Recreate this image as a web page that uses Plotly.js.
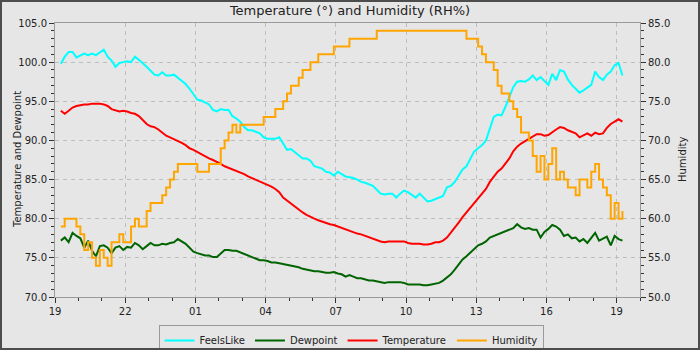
<!DOCTYPE html>
<html>
<head>
<meta charset="utf-8">
<script src="https://cdn.plot.ly/plotly-3.0.1.min.js"></script>
<style>
  html, body { margin: 0; padding: 0; background: #e6e6e6; }
  #wrap { position: relative; width: 700px; height: 350px; }
  #chart { width: 700px; height: 350px; }
  #frame { position: absolute; left: 0; top: 0; width: 700px; height: 350px;
           box-sizing: border-box; border: 2px solid #4d4d4d; pointer-events: none; }
</style>
</head>
<body>
<div id="wrap">
  <div id="chart"></div>
  <div id="frame"></div>
</div>
<script>
// Readings every 10 minutes, 19:15 to 19:15 the next day
const START_UTC = Date.UTC(2024, 4, 10, 19, 15);
const STEP_MINUTES = 10;

const feelsLike = [
  99.8, 100.7, 101.3, 101.3, 100.6, 100.9, 101.1, 100.9, 101.1, 100.9, 101.2, 101.6,
  100.7, 100.2, 99.4, 99.9, 100.0, 100.1, 100.0, 100.7, 100.3, 99.9, 99.4, 98.9,
  98.4, 98.3, 98.7, 98.3, 98.3, 98.4, 98.0, 97.6, 97.2, 96.6, 95.9, 95.2,
  95.1, 94.9, 94.6, 93.9, 93.7, 94.0, 93.9, 93.9, 93.1, 92.8, 92.4, 91.7,
  91.3, 91.3, 91.1, 90.9, 90.4, 90.2, 90.2, 90.2, 90.4, 89.6, 88.8, 88.9,
  88.5, 88.2, 87.7, 87.7, 87.4, 86.7, 86.5, 86.4, 86.0, 85.9, 85.5, 86.0,
  85.7, 85.4, 85.3, 85.2, 85.0, 84.7, 84.6, 84.4, 84.2, 83.7, 83.2, 83.1,
  83.2, 83.2, 82.7, 83.2, 83.6, 83.4, 83.0, 82.7, 83.2, 82.7, 82.2, 82.3,
  82.5, 82.6, 82.9, 84.0, 84.2, 84.7, 85.5, 86.3, 86.7, 87.7, 88.6, 89.0,
  89.4, 90.0, 91.6, 93.0, 93.3, 93.2, 94.3, 95.6, 96.8, 97.5, 97.6, 97.5,
  97.8, 98.3, 97.7, 98.1, 97.6, 97.1, 98.5, 97.7, 99.0, 98.8, 97.8, 97.1,
  96.6, 96.1, 96.4, 96.7, 97.1, 98.8, 98.1, 97.7, 98.4, 98.8, 99.6, 99.9,
  98.3
];

const dewpoint = [
  77.2, 77.6, 77.0, 78.2, 77.8, 77.5, 76.3, 77.2, 75.9, 75.2, 76.5, 76.6,
  76.3, 75.6, 76.3, 76.5, 76.0, 76.4, 76.3, 76.9, 76.6, 76.1, 76.5, 76.9,
  76.6, 76.6, 76.8, 76.7, 76.9, 77.0, 77.4, 77.1, 76.8, 76.3, 75.8, 75.6,
  75.4, 75.3, 75.3, 75.1, 75.1, 75.6, 76.0, 76.0, 75.9, 75.9, 75.7, 75.5,
  75.3, 75.1, 74.9, 74.7, 74.7, 74.6, 74.4, 74.4, 74.3, 74.2, 74.1, 74.0,
  73.9, 73.8, 73.6, 73.5, 73.4, 73.3, 73.3, 73.2, 73.1, 73.1, 73.2, 73.0,
  72.9, 72.6, 72.8, 72.6, 72.4, 72.4, 72.2, 72.1, 72.1, 72.0, 71.9, 71.8,
  71.9, 71.9, 71.9, 71.9, 71.8, 71.6, 71.6, 71.6, 71.6, 71.5, 71.5, 71.6,
  71.7, 71.8, 72.1, 72.5, 72.9, 73.5, 74.1, 74.8, 75.2, 75.7, 76.2, 76.6,
  76.8, 77.1, 77.6, 77.8, 77.9, 78.1, 78.3, 78.6, 78.8, 79.3, 78.9, 78.7,
  78.8, 78.6, 78.6, 77.6, 78.3, 78.7, 79.2, 79.0, 78.6, 77.8, 78.0, 77.5,
  77.6, 77.1, 77.4, 76.9, 77.5, 78.2, 77.2, 77.5, 77.7, 76.6, 77.8, 77.4,
  77.2
];

const temperature = [
  93.8, 93.4, 93.8, 94.2, 94.4, 94.5, 94.6, 94.6, 94.7, 94.7, 94.7, 94.6,
  94.4, 94.0, 93.8, 93.7, 93.8, 93.7, 93.5, 93.4, 93.1, 92.6, 92.1, 91.8,
  91.7, 91.4, 91.0, 90.6, 90.4, 90.2, 89.9, 89.7, 89.4, 89.0, 88.8, 88.5,
  88.2, 88.0, 87.7, 87.5, 87.3, 87.0, 86.7, 86.5, 86.4, 86.2, 85.9, 85.7,
  85.4, 85.2, 85.0, 84.7, 84.5, 84.3, 84.1, 83.8, 83.4, 82.7, 82.3, 82.0,
  81.6, 81.2, 80.8, 80.5, 80.2, 80.0, 79.8, 79.6, 79.4, 79.3, 79.2, 79.0,
  78.8, 78.7, 78.5, 78.2, 78.1, 78.0, 77.8, 77.7, 77.5, 77.2, 77.1, 77.0,
  77.1, 77.1, 77.1, 77.1, 77.1, 76.9, 76.8, 76.8, 76.8, 76.7, 76.7, 76.8,
  77.0, 77.0, 77.2, 77.6, 78.2, 78.9, 79.5, 80.2, 80.8, 81.5, 82.1, 82.6,
  83.2, 83.8, 84.7, 85.4, 86.0, 86.4, 87.1, 87.7, 88.6, 89.2, 89.6, 89.9,
  90.2, 90.5, 90.8, 90.8, 90.6, 90.7, 91.1, 91.4, 91.7, 91.6, 91.3, 91.1,
  90.9, 90.4, 90.6, 90.9, 90.6, 91.0, 90.8, 90.9, 91.6, 92.1, 92.4, 92.7,
  92.4
];

const humidity = [
  59, 60, 60, 60, 59, 58, 56, 57, 55, 54, 56, 55,
  54, 57, 57, 58, 57, 57, 59, 60, 59, 59, 61, 62,
  62, 62, 63, 64, 65, 66, 67, 67, 67, 67, 67, 66,
  66, 66, 67, 67, 67, 69, 70, 71, 72, 71, 72, 72,
  72, 72, 72, 72, 73, 73, 73, 74, 74, 75, 76, 77,
  77, 78, 79, 79, 80, 80, 81, 81, 81, 81, 82, 82,
  82, 82, 83, 83, 83, 83, 83, 83, 83, 84, 84, 84,
  84, 84, 84, 84, 84, 84, 84, 84, 84, 84, 84, 84,
  84, 84, 84, 84, 84, 84, 84, 84, 83, 83, 83, 82,
  81, 80, 80, 79, 77, 76, 76, 75, 74, 73, 71, 71,
  70, 68, 66, 68, 65, 67, 69, 65, 66, 65, 64, 64,
  63, 65, 65, 64, 66, 67, 65, 64, 63, 60, 62, 60,
  61
];

function stamp(ms) {
  return new Date(ms).toISOString().slice(0, 19).replace('T', ' ');
}
const times = feelsLike.map((_, i) => stamp(START_UTC + i * STEP_MINUTES * 60000));

const FONT = 'DejaVu Sans, Verdana, sans-serif';
const INK = '#222';
const FRAME = '#9a9a9a';
const GRID = '#bdbdbd';

const traces = [
  { name: 'FeelsLike', x: times, y: feelsLike, type: 'scatter', mode: 'lines',
    line: { color: '#00ffff', width: 2 } },
  { name: 'Dewpoint', x: times, y: dewpoint, type: 'scatter', mode: 'lines',
    line: { color: '#006400', width: 2 } },
  { name: 'Temperature', x: times, y: temperature, type: 'scatter', mode: 'lines',
    line: { color: '#ff0000', width: 2 } },
  { name: 'Humidity', x: times, y: humidity, type: 'scatter', mode: 'lines', yaxis: 'y2',
    line: { color: '#ffa500', width: 2, shape: 'hv' } }
];

const layout = {
  width: 700, height: 350,
  margin: { l: 55, r: 60, t: 23, b: 53, pad: 0, autoexpand: false },
  paper_bgcolor: '#e6e6e6',
  plot_bgcolor: '#e6e6e6',
  font: { family: FONT, size: 10, color: INK },
  title: { text: 'Temperature (°) and Humidity (RH%)', font: { family: FONT, size: 13, color: INK },
           x: 0.5, xref: 'container', y: 0.97, yref: 'container', yanchor: 'middle' },
  showlegend: true,
  legend: { orientation: 'h', x: 0.506, xanchor: 'center', y: -0.102, yanchor: 'top',
            bgcolor: '#e6e6e6', bordercolor: FRAME, borderwidth: 1,
            font: { family: FONT, size: 10, color: INK }, itemwidth: 30 },
  xaxis: {
    type: 'date', automargin: false,
    range: ['2024-05-10 19:00', '2024-05-11 20:00'],
    tick0: '2024-05-10 19:00', dtick: 3 * 3600000, tickformat: '%H',
    ticks: 'outside', ticklen: 5, tickcolor: '#333',
    minor: { dtick: 3600000, ticks: 'outside', ticklen: 3, tickcolor: '#333', showgrid: false },
    showline: true, linecolor: FRAME, mirror: true,
    showgrid: true, gridcolor: GRID, griddash: '4px,4px',
    zeroline: false, tickfont: { size: 10, color: INK }
  },
  yaxis: {
    automargin: false,
    range: [70, 105], dtick: 5, tick0: 70, tickformat: '.1f',
    ticks: 'outside', ticklen: 5, tickcolor: '#333',
    minor: { dtick: 1, ticks: 'outside', ticklen: 3, tickcolor: '#333', showgrid: false },
    showline: true, linecolor: FRAME, mirror: true,
    showgrid: true, gridcolor: GRID, griddash: '4px,4px',
    zeroline: false, tickfont: { size: 10, color: INK }
  },
  yaxis2: {
    automargin: false,
    overlaying: 'y', side: 'right',
    range: [50, 85], dtick: 5, tick0: 50, tickformat: '.1f',
    ticks: 'outside', ticklen: 5, tickcolor: '#333',
    minor: { dtick: 1, ticks: 'outside', ticklen: 3, tickcolor: '#333', showgrid: false },
    showline: true, linecolor: FRAME, showgrid: false,
    zeroline: false, tickfont: { size: 10, color: INK }
  },
  annotations: [
    { text: 'Temperature and Dewpoint', textangle: -90, showarrow: false,
      xref: 'paper', yref: 'paper', x: (17 - 55) / 585, y: 0.5,
      xanchor: 'center', yanchor: 'middle', font: { family: FONT, size: 10, color: INK } },
    { text: 'Humidity', textangle: -90, showarrow: false,
      xref: 'paper', yref: 'paper', x: (682 - 55) / 585, y: 0.5,
      xanchor: 'center', yanchor: 'middle', font: { family: FONT, size: 10, color: INK } }
  ]
};

Plotly.newPlot('chart', traces, layout, { displayModeBar: false, staticPlot: true });
</script>
</body>
</html>
